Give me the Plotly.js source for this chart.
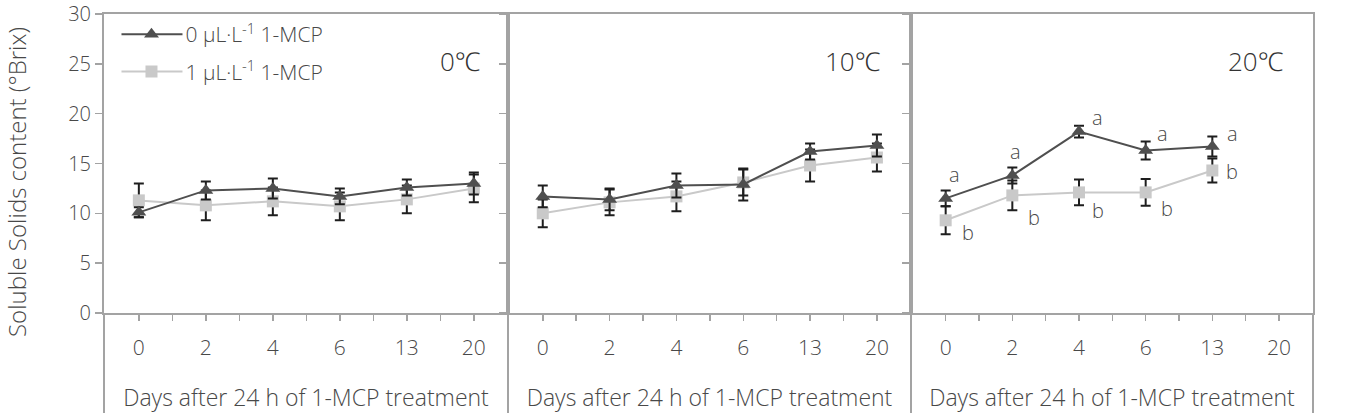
<!DOCTYPE html>
<html>
<head>
<meta charset="utf-8">
<script src="https://cdn.plot.ly/plotly-3.0.1.min.js"></script>
<style>
  html, body { margin: 0; padding: 0; background: #fff; }
  #chart { width: 1350px; height: 413px; }
</style>
</head>
<body>
<div id="chart"></div>
<script>
// Storage days (categories) and storage temperatures (panels)
const days = ['0', '2', '4', '6', '13', '20'];
const temps = ['0℃', '10℃', '20℃'];

// Soluble solids (°Brix), untreated control (0 μL·L-1 1-MCP)
const ctrl0C = [10.1, 12.3, 12.5, 11.7, 12.6, 13.0];
const ctrl0CErr = [0.5, 0.9, 1.0, 0.8, 0.8, 1.1];
const ctrl10C = [11.7, 11.4, 12.8, 12.9, 16.2, 16.8];
const ctrl10CErr = [1.1, 1.1, 1.2, 1.6, 0.8, 1.1];
const ctrl20C = [11.5, 13.8, 18.2, 16.3, 16.7, null];
const ctrl20CErr = [0.8, 0.8, 0.6, 0.9, 1.0, null];

// Soluble solids (°Brix), 1 μL·L-1 1-MCP
const mcp0C = [11.3, 10.8, 11.2, 10.7, 11.4, 12.5];
const mcp0CErr = [1.7, 1.5, 1.4, 1.4, 1.4, 1.4];
const mcp10C = [10.0, 11.1, 11.7, 13.1, 14.8, 15.6];
const mcp10CErr = [1.4, 1.3, 1.5, 1.3, 1.6, 1.4];
const mcp20C = [9.3, 11.8, 12.1, 12.1, 14.3, null];
const mcp20CErr = [1.4, 1.5, 1.3, 1.35, 1.2, null];

// Significance letters at 20℃
const letters20Ctrl = ['a', 'a', 'a', 'a', 'a'];
const letters20Mcp = ['b', 'b', 'b', 'b', 'b'];

const seriesNames = ['0 μL·L<sup>-1</sup> 1-MCP', '1 μL·L<sup>-1</sup> 1-MCP'];
const yTitle = 'Soluble Solids content (°Brix)';
const xTitle = 'Days after 24 h of 1-MCP treatment';
const yTicks = [0, 5, 10, 15, 20, 25, 30];

// ---- styling ----
const FONT = '"Open Sans", "Noto Sans", sans-serif';
const W300 = 300;
const TXT = '#484848';
const FRAME = '#a3a3a3';
const DARK = '#4f4f4f';
const LIGHT = '#c9c9c9';
const ERR = '#1e1e1e';

const ctrl = [ctrl0C, ctrl10C, ctrl20C];
const ctrlErr = [ctrl0CErr, ctrl10CErr, ctrl20CErr];
const mcp = [mcp0C, mcp10C, mcp20C];
const mcpErr = [mcp0CErr, mcp10CErr, mcp20CErr];

const xPos = days.map((d, i) => i);
const tickVals = [];
const tickText = [];
for (let i = 0; i < days.length; i++) {
  tickVals.push(i); tickText.push(days[i]);
  if (i < days.length - 1) { tickVals.push(i + 0.5); tickText.push(' '); }
}

const plotLeft = 104, plotRight = 1313;
const W = plotRight - plotLeft;
const bounds = [0, 404 / W, 807 / W, 1];

const mcpTraces = [];
const ctrlTraces = [];
for (let p = 0; p < 3; p++) {
  const sfx = p === 0 ? '' : String(p + 1);
  const nM = mcp[p].filter(v => v !== null).length;
  mcpTraces.push({
    type: 'scatter', mode: 'lines+markers',
    x: xPos.slice(0, nM), y: mcp[p].slice(0, nM),
    xaxis: 'x' + sfx, yaxis: 'y' + sfx,
    name: seriesNames[1], legendrank: 2, legendgroup: 'mcp', showlegend: p === 0,
    line: { color: LIGHT, width: 2 },
    marker: { symbol: 'square', size: 12, color: LIGHT },
    error_y: { type: 'data', array: mcpErr[p].slice(0, nM), color: ERR, thickness: 2, width: 5 }
  });
  const nC = ctrl[p].filter(v => v !== null).length;
  ctrlTraces.push({
    type: 'scatter', mode: 'lines+markers',
    x: xPos.slice(0, nC), y: ctrl[p].slice(0, nC),
    xaxis: 'x' + sfx, yaxis: 'y' + sfx,
    name: seriesNames[0], legendrank: 1, legendgroup: 'ctrl', showlegend: p === 0,
    line: { color: DARK, width: 2 },
    marker: { symbol: 'triangle-up', size: 13, color: DARK },
    error_y: { type: 'data', array: ctrlErr[p].slice(0, nC), color: ERR, thickness: 2, width: 5 }
  });
}
// control series drawn over the 1-MCP series
const traces = mcpTraces.concat(ctrlTraces);

const xAxisBase = (p) => ({
  domain: [bounds[p], bounds[p + 1]],
  range: [-0.52, 5.51],
  tickmode: 'array', tickvals: tickVals, ticktext: tickText,
  ticks: 'outside', ticklen: 6, tickwidth: 1.5, tickcolor: FRAME,
  showline: true, linecolor: FRAME, linewidth: 2, mirror: true,
  showgrid: false, zeroline: false,
  ticklabelstandoff: 9,
  tickfont: { family: FONT, size: 21, weight: W300, color: TXT },
  title: { text: xTitle, standoff: 30,
           font: { family: FONT, size: 23, weight: W300, color: TXT } },
  fixedrange: true
});
const yAxisBase = (p, showLabels) => ({
  range: [0, 30], tickvals: yTicks,
  showticklabels: showLabels,
  ticks: 'outside', ticklen: 7, tickwidth: 1.5, tickcolor: FRAME,
  showline: true, linecolor: FRAME, linewidth: 2, mirror: true,
  showgrid: false, zeroline: false,
  tickfont: { family: FONT, size: 20, weight: W300, color: TXT },
  fixedrange: true
});

const layout = {
  width: 1350, height: 413,
  margin: { l: plotLeft, r: 1350 - plotRight, t: 14, b: 100 },
  paper_bgcolor: '#fff', plot_bgcolor: '#fff',
  font: { family: FONT, color: TXT },
  showlegend: true,
  legend: {
    x: 0.0095, y: 1.0, xanchor: 'left', yanchor: 'top',
    bgcolor: 'rgba(0,0,0,0)', tracegroupgap: 7, itemwidth: 60,
    font: { family: FONT, size: 21, weight: W300, color: TXT }
  },
  xaxis: Object.assign(xAxisBase(0), { anchor: 'y' }),
  xaxis2: Object.assign(xAxisBase(1), { anchor: 'y2' }),
  xaxis3: Object.assign(xAxisBase(2), { anchor: 'y3' }),
  yaxis: Object.assign(yAxisBase(0, true), { anchor: 'x' }),
  yaxis2: Object.assign(yAxisBase(1, false), { anchor: 'x2' }),
  yaxis3: Object.assign(yAxisBase(2, false), { anchor: 'x3' }),
  yaxis4: {
    overlaying: 'y3', anchor: 'x3', side: 'right',
    range: [0, 30], tickvals: yTicks, ticks: '', showline: false,
    showgrid: false, zeroline: false, ticklabelstandoff: 9,
    tickfont: { family: FONT, size: 18, weight: W300, color: '#cfcfcf' }, fixedrange: true
  },
  shapes: bounds.map(b => ({
    type: 'line', xref: 'paper', yref: 'paper',
    x0: b, x1: b, y0: -0.335, y1: 0,
    line: { color: FRAME, width: 2 }
  })),
  annotations: [{
    // vertical axis title
    xref: 'paper', yref: 'paper', x: -0.0728, y: 0.438,
    xanchor: 'center', yanchor: 'middle', textangle: -90,
    text: yTitle, showarrow: false,
    font: { family: FONT, size: 24, weight: W300, color: TXT }
  }]
};

// temperature labels in each panel
temps.forEach((t, p) => {
  const sfx = p === 0 ? '' : String(p + 1);
  layout.annotations.push({
    xref: 'x' + sfx, yref: 'y' + sfx, x: p === 0 ? 4.8 : 4.64, y: 25.3,
    text: t, showarrow: false,
    font: { family: FONT, size: 26, weight: W300, color: '#333' }
  });
});

// significance letters beside the 20℃ points
const shiftA = [[9, 24], [3, 24], [18, 14], [17, 17], [20, 13]];
const shiftB = [[22, -12], [22, -22], [19, -18], [21, -16], [20, -1]];
letters20Ctrl.forEach((l, i) => {
  layout.annotations.push({
    xref: 'x3', yref: 'y3', x: xPos[i], y: ctrl20C[i], text: l, showarrow: false,
    xshift: shiftA[i][0], yshift: shiftA[i][1],
    font: { family: FONT, size: 20, weight: W300, color: TXT }
  });
});
letters20Mcp.forEach((l, i) => {
  layout.annotations.push({
    xref: 'x3', yref: 'y3', x: xPos[i], y: mcp20C[i], text: l, showarrow: false,
    xshift: shiftB[i][0], yshift: shiftB[i][1],
    font: { family: FONT, size: 20, weight: W300, color: TXT }
  });
});

Plotly.newPlot('chart', traces, layout, { displayModeBar: false, staticPlot: true }).then(gd => {
  // lengthen the legend sample lines so the marker sits mid-line
  gd.querySelectorAll('.legend .traces').forEach(item => {
    const text = item.querySelector('text.legendtext');
    const line = item.querySelector('.legendlines path');
    const pts = item.querySelectorAll('.legendpoints path');
    if (!text) return;
    const tx = parseFloat(text.getAttribute('x')) || 70;
    if (line) line.setAttribute('d', `M${tx - 64},0h61`);
    pts.forEach(pt => pt.setAttribute('transform', `translate(${tx - 34},0)`));
  });
});
</script>
</body>
</html>
